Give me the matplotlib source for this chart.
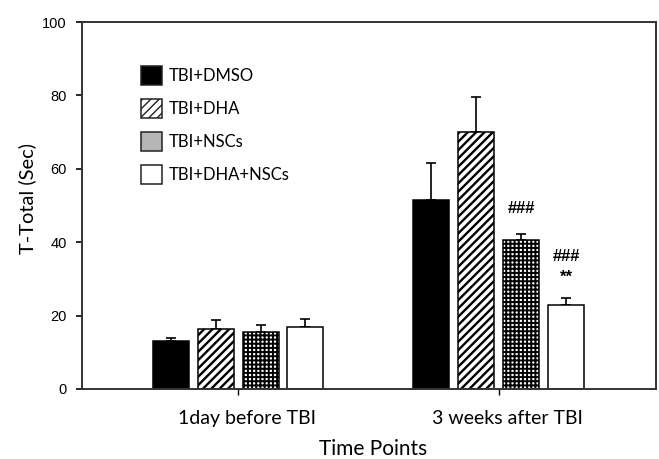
import matplotlib
matplotlib.use("Agg")
import matplotlib.pyplot as plt
import matplotlib.transforms as mtransforms
import numpy as np
from matplotlib.patches import Patch

groups = ["1day before TBI", "3 weeks after TBI"]
series = ["TBI+DMSO", "TBI+DHA", "TBI+NSCs", "TBI+DHA+NSCs"]
means = {
    "TBI+DMSO": [13.2, 51.5],
    "TBI+DHA": [16.3, 70.1],
    "TBI+NSCs": [15.4, 40.6],
    "TBI+DHA+NSCs": [17.0, 22.9],
}
errors = {
    "TBI+DMSO": [0.8, 10.2],
    "TBI+DHA": [2.5, 9.6],
    "TBI+NSCs": [2.1, 1.6],
    "TBI+DHA+NSCs": [2.2, 1.8],
}
y_ticks = [0, 20, 40, 60, 80, 100]
annotations = [("TBI+NSCs", 1, "###", 49.3),
               ("TBI+DHA+NSCs", 1, "###", 36.2),
               ("TBI+DHA+NSCs", 1, "**", 30.4)]

hatches = {"TBI+DMSO": "", "TBI+DHA": "////", "TBI+NSCs": "++++", "TBI+DHA+NSCs": ""}
faces = {"TBI+DMSO": "black", "TBI+DHA": "white", "TBI+NSCs": "white", "TBI+DHA+NSCs": "white"}
hlw = {"TBI+DHA": 1.7, "TBI+NSCs": 1.4}

fig = plt.figure(figsize=(6.59, 4.59), dpi=100)
ax = fig.add_axes([82/659, 1 - 389/459, (656-82)/659, (389-22)/459])

step = 0.1724
width = 0.138
x = np.arange(len(groups))
for i, s in enumerate(series):
    off = (i - 1.5) * step
    with plt.rc_context({"hatch.linewidth": hlw.get(s, 1.0), "hatch.color": "black"}):
        bars = ax.bar(x + off, means[s], width, color=faces[s], edgecolor="black",
                      linewidth=1.1, hatch=hatches[s], zorder=2)
    for b in bars:
        if hasattr(b, "set_hatch_linewidth"):
            b.set_hatch_linewidth(hlw.get(s, 1.0))
    ax.errorbar(x + off, means[s], yerr=[np.zeros(len(groups)), errors[s]], fmt="none",
                ecolor="black", elinewidth=1.2, capsize=3.8, capthick=1.2, zorder=1)

for s, g, txt, yv in annotations:
    i = series.index(s)
    ax.text(x[g] + (i - 1.5) * step, yv, txt, ha="center", va="center",
            fontsize=12, fontweight="bold", family="Liberation Sans")

ax.set_xlim(-0.598, 1.602)
ax.set_ylim(0, 100)
ax.set_yticks(y_ticks)
ax.set_yticklabels([str(v) for v in y_ticks], family="Liberation Sans", fontsize=10.5)
ax.set_xticks(x)
ax.set_xticklabels(groups, family="Lato", fontsize=14)
ax.tick_params(axis="x", length=4, width=1, pad=11)
ax.tick_params(axis="y", length=4.5, width=1.2, pad=6.5)
shift = mtransforms.ScaledTranslation(9/100, 0, fig.dpi_scale_trans)
for lab in ax.get_xticklabels():
    lab.set_transform(lab.get_transform() + shift)
for sp in ax.spines.values():
    sp.set_linewidth(1.4)
    sp.set_color("#333333")

ax.set_ylabel("T-Total (Sec)", family="Lato", fontsize=14.5)
ax.yaxis.set_label_coords(-0.08, 0.52)
ax.set_xlabel("Time Points", family="Lato", fontsize=15)
ax.xaxis.set_label_coords(0.507, -0.135)

handles = []
for s in series:
    p = Patch(facecolor=faces[s] if s != "TBI+NSCs" else "#b5b5b5", edgecolor="#222222",
              hatch=hatches[s] if s != "TBI+NSCs" else "", linewidth=1.1)
    handles.append(p)
leg = ax.legend(handles, series, loc="upper left", bbox_to_anchor=(0.089, 0.904),
                frameon=False, prop={"family": "Lato", "size": 12}, borderpad=0,
                handlelength=1.26, handleheight=1.44, labelspacing=0.8, handletextpad=0.35)

fig.savefig("out.png", dpi=100)
